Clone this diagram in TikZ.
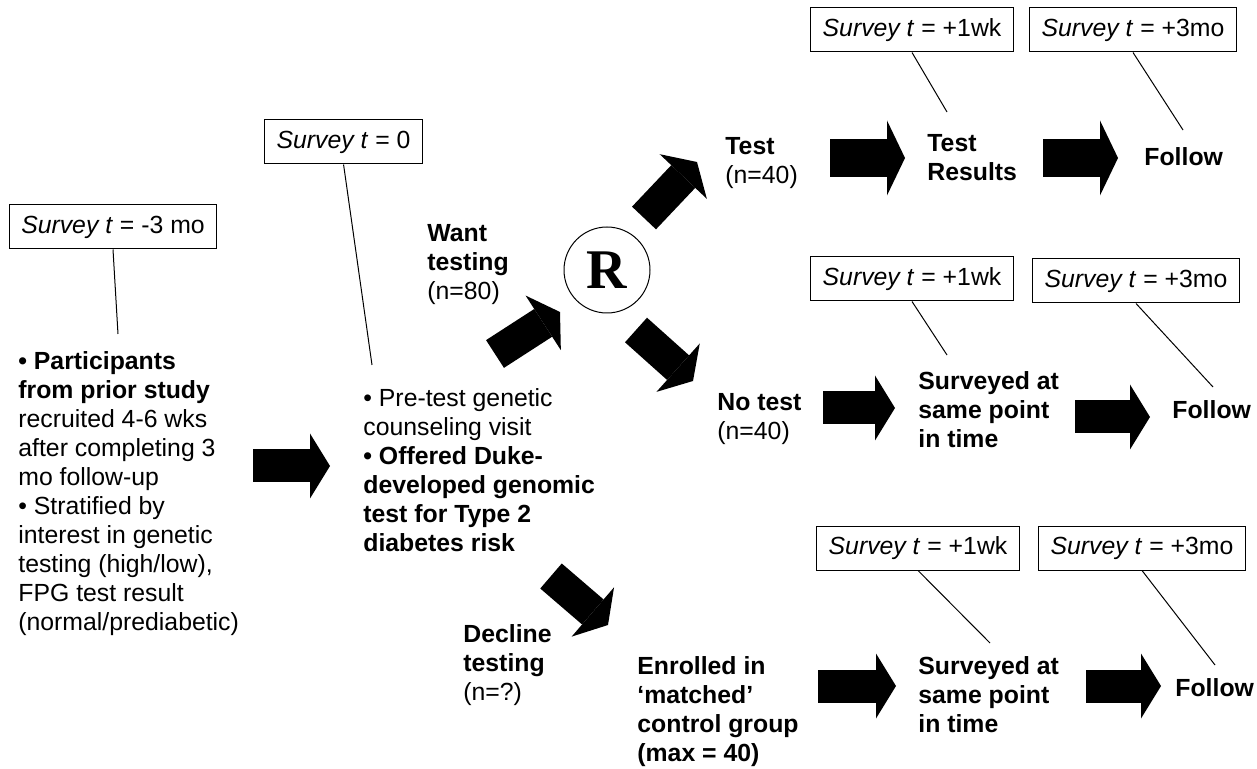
\documentclass[tikz,border=0pt]{standalone}
\usepackage{fontspec}
\setmainfont{Liberation Sans}
\newfontfamily\rserif{Liberation Serif}
\usetikzlibrary{arrows.meta}
\newcommand{\txtsize}{\fontsize{12.4}{14.5}\selectfont}
\tikzset{>=Stealth,every node/.style={font=\txtsize,inner sep=0pt,align=left},
strong/.style={font=\txtsize\bfseries},
survey/.style={draw,line width=.5pt,inner xsep=6pt,minimum height=22pt},
fat/.style={line width=16.5pt,-{Triangle[length=10pt,width=32.5pt,line width=0pt]}},
bigfat/.style={line width=19pt,-{Triangle[length=9pt,width=37.5pt,line width=0pt]}},
link/.style={line width=.5pt}}

\begin{document}
\begin{tikzpicture}[x=.5pt,y=-.5pt]
\useasboundingbox (0,0) rectangle (1257,769);
\node[survey] (sA) at (113,227) {\textit{Survey t} = -3 mo};
\node[survey,anchor=east] (s0) at (423,142) {\textit{Survey t} = 0};
\node[survey] (sT1) at (912,30) {\textit{Survey t} = +1wk};\node[survey] (sT2) at (1133,30) {\textit{Survey t} = +3mo};
\node[survey] (sN1) at (912,279) {\textit{Survey t} = +1wk};\node[survey] (sN2) at (1136,281) {\textit{Survey t} = +3mo};
\node[survey] (sC1) at (918,548) {\textit{Survey t} = +1wk};\node[survey] (sC2) at (1142,548) {\textit{Survey t} = +3mo};
\node[anchor=north west] (prior) at (18,351) {\textbf{• Participants}\\\textbf{from prior study}\\recruited 4-6 wks\\after completing 3\\mo follow-up\\• Stratified by\\interest in genetic\\testing (high/low),\\FPG test result\\(normal/prediabetic)};
\node[anchor=north west] (visit) at (363,388) {• Pre-test genetic\\counseling visit\\\textbf{• Offered Duke-}\\\textbf{developed genomic}\\\textbf{test for Type 2}\\\textbf{diabetes risk}};
\node[anchor=north west] (want) at (427,224) {\textbf{Want}\\\textbf{testing}\\(n=80)};
\node[draw,circle,line width=.5pt,minimum size=43pt,font=\rserif\fontsize{28}{28}\selectfont\bfseries] (R) at (607,270) {R};
\node[anchor=north west] (test) at (725,137) {\textbf{Test}\\(n=40)};
\node[anchor=north west] (notest) at (717,393) {\textbf{No test}\\(n=40)};
\node[anchor=north west] (decline) at (463,624) {\textbf{Decline}\\\textbf{testing}\\(n=?)};
\node[anchor=north west,strong] (enrol) at (637,656) {Enrolled in\\‘matched’\\control group\\(max = 40)};
\node[anchor=north west,strong] (result) at (927,134) {Test\\Results};
\node[anchor=north west,strong] (sameN) at (918,371) {Surveyed at\\same point\\in time};
\node[anchor=north west,strong] (sameC) at (918,656) {Surveyed at\\same point\\in time};
\node[anchor=west,strong] (followT) at (1144,157) {Follow};
\node[anchor=west,strong] (followN) at (1172,410) {Follow};
\node[anchor=west,strong] (followC) at (1175,688) {Follow};
\coordinate (eA) at (118,334);\coordinate (e0) at (372,365);\coordinate (eT1) at (947,112);\coordinate (eT2) at (1183,130);
\coordinate (eN1) at (947,355);\coordinate (eN2) at (1213,387);\coordinate (eC1) at (990,643);\coordinate (eC2) at (1215,665);
\draw[link] (sA.south)--(eA);\draw[link] (s0.south)--(e0);\draw[link] (sT1.south)--(eT1);\draw[link] (sT2.south)--(eT2);
\draw[link] (sN1.south)--(eN1);\draw[link] (sN2.south)--(eN2);\draw[link] (sC1.south)--(eC1);\draw[link] (sC2.south)--(eC2);
\foreach \n/\p/\q in {go/{253,466}/{330,466},wt/{495,354}/{560,312},up/{644,218}/{697,162},dn/{636,330}/{693,381},dc/{551,576}/{608,625},
  n1/{823,408}/{895,408},n2/{1075,417}/{1150,417},c1/{818,686}/{896,686},c2/{1086,686}/{1161,686}}
  {\coordinate (\n0) at (\p);\coordinate (\n1) at (\q);\draw[fat] (\n0)--(\n1);}
\foreach \n/\p/\q in {t1/{830,158}/{905,158},t2/{1043,158}/{1118,158}}
  {\coordinate (\n0) at (\p);\coordinate (\n1) at (\q);\draw[bigfat] (\n0)--(\n1);}
\end{tikzpicture}
\end{document}
